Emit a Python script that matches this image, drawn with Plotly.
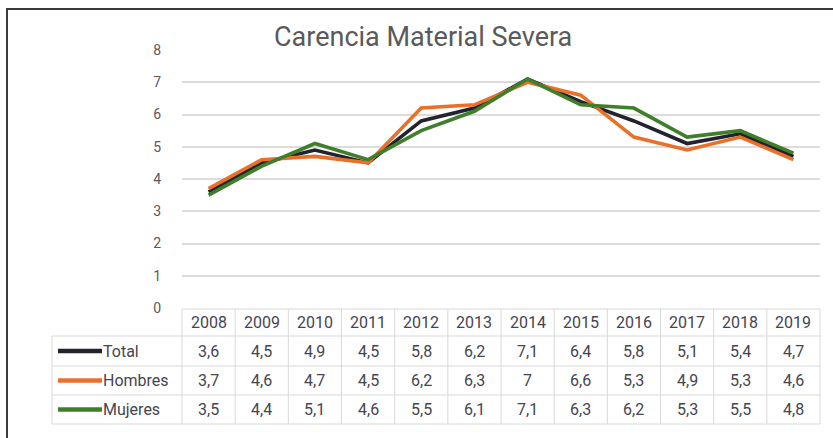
import plotly.graph_objects as go

# ---- data ----
years = ["2008", "2009", "2010", "2011", "2012", "2013",
         "2014", "2015", "2016", "2017", "2018", "2019"]
total = [3.6, 4.5, 4.9, 4.5, 5.8, 6.2, 7.1, 6.4, 5.8, 5.1, 5.4, 4.7]
hombres = [3.7, 4.6, 4.7, 4.5, 6.2, 6.3, 7.0, 6.6, 5.3, 4.9, 5.3, 4.6]
mujeres = [3.5, 4.4, 5.1, 4.6, 5.5, 6.1, 7.1, 6.3, 6.2, 5.3, 5.5, 4.8]
series_names = ["Total", "Hombres", "Mujeres"]
y_ticks = [0, 1, 2, 3, 4, 5, 6, 7, 8]
chart_title = "Carencia Material Severa"

# ---- style / geometry ----
W, H = 833, 438
colors = ["#23232f", "#e8702a", "#3f7f2c"]
series = [total, hombres, mujeres]
FONT = "Roboto, Lato, sans-serif"
TXT = "#45454f"
GRID = "#dcdcdc"

plot_x0, plot_x1 = 182, 820
y_top_px, y_zero_px = 50, 308
row_edges_px = [309, 336, 366, 395, 424]
label_x0 = 52
key_x0, key_x1 = 58, 102


def px(x):
    return x / W


def py(y):
    return 1 - y / H


ymax = max(y_ticks)
dom_y = [py(y_zero_px), py(y_top_px)]
n = len(years)
idx = list(range(n))

fig = go.Figure()
for name, vals, col in zip(series_names, series, colors):
    fig.add_trace(go.Scatter(x=idx, y=vals, name=name, mode="lines",
                             line=dict(color=col, width=3.6),
                             showlegend=False))


def fmt(v):
    return f"{v:g}".replace(".", ",")


shapes = []
annotations = []
line_style = dict(color="#d9d9d9", width=1)
col_edges = [px(plot_x0) + (px(plot_x1) - px(plot_x0)) * i / n for i in range(n + 1)]

# horizontal table lines
for k, yy in enumerate(row_edges_px):
    x0 = col_edges[0] if k == 0 else px(label_x0)
    shapes.append(dict(type="line", xref="paper", yref="paper",
                       x0=x0, x1=col_edges[-1], y0=py(yy), y1=py(yy), line=line_style))
# vertical table lines
for xe in col_edges:
    shapes.append(dict(type="line", xref="paper", yref="paper",
                       x0=xe, x1=xe, y0=py(row_edges_px[0]), y1=py(row_edges_px[-1]),
                       line=line_style))
shapes.append(dict(type="line", xref="paper", yref="paper",
                   x0=px(label_x0), x1=px(label_x0),
                   y0=py(row_edges_px[1]), y1=py(row_edges_px[-1]), line=line_style))

cell_font = dict(family=FONT, size=16, color=TXT)

# header row
hy = py((row_edges_px[0] + row_edges_px[1]) / 2)
for i, yr in zip(idx, years):
    annotations.append(dict(x=i, xref="x", y=hy, yref="paper", text=yr,
                            xanchor="center", yanchor="middle",
                            showarrow=False, font=cell_font))

# data rows
for r, (name, vals, col) in enumerate(zip(series_names, series, colors)):
    cy = py((row_edges_px[r + 1] + row_edges_px[r + 2]) / 2)
    for i, v in zip(idx, vals):
        annotations.append(dict(x=i, xref="x", y=cy, yref="paper", text=fmt(v),
                                xanchor="center", yanchor="middle",
                                showarrow=False, font=cell_font))
    shapes.append(dict(type="line", xref="paper", yref="paper",
                       x0=px(key_x0), x1=px(key_x1), y0=cy, y1=cy,
                       line=dict(color=col, width=4.5)))
    annotations.append(dict(x=px(key_x1), xref="paper", y=cy, yref="paper", text=name,
                            xanchor="left", yanchor="middle", showarrow=False,
                            xshift=-1, font=cell_font))

# outer frame (top and left)
shapes.append(dict(type="line", xref="paper", yref="paper", x0=px(6), x1=1,
                   y0=py(9), y1=py(9), line=dict(color="#3a3a3a", width=2)))
shapes.append(dict(type="line", xref="paper", yref="paper", x0=px(7), x1=px(7),
                   y0=py(9), y1=0, line=dict(color="#3a3a3a", width=2)))

# title
annotations.append(dict(x=px(423), y=py(37), xref="paper", yref="paper",
                        text=chart_title, showarrow=False,
                        xanchor="center", yanchor="middle",
                        font=dict(family=FONT, size=27, color="#5a5a5a")))

fig.update_layout(
    width=W, height=H, autosize=False,
    margin=dict(l=0, r=0, t=0, b=0, pad=0, autoexpand=False),
    paper_bgcolor="white", plot_bgcolor="white",
    showlegend=False,
    xaxis=dict(domain=[px(plot_x0), px(plot_x1)], range=[-0.5, n - 0.5],
               tickvals=idx, ticktext=years, automargin=False,
               showticklabels=False, showgrid=False, zeroline=False, showline=False,
               fixedrange=True),
    yaxis=dict(domain=dom_y, range=[0, ymax], tickvals=y_ticks, automargin=False,
               showgrid=True, gridcolor=GRID, gridwidth=2, zeroline=False,
               showline=False, ticklabelstandoff=20,
               tickfont=dict(family=FONT, size=14, color="#595959"),
               fixedrange=True),
    shapes=shapes,
    annotations=annotations,
)

post = (
    "document.documentElement.style.margin='0';"
    "document.body.style.margin='0';"
    "document.documentElement.style.overflow='hidden';"
    "document.body.style.overflow='hidden';"
    "var d=document.getElementById('{plot_id}');"
    "d.style.position='fixed';d.style.left='0px';d.style.top='0px';"
)

fig.write_html("out.html", config={"displayModeBar": False, "responsive": False},
               post_script=post)
